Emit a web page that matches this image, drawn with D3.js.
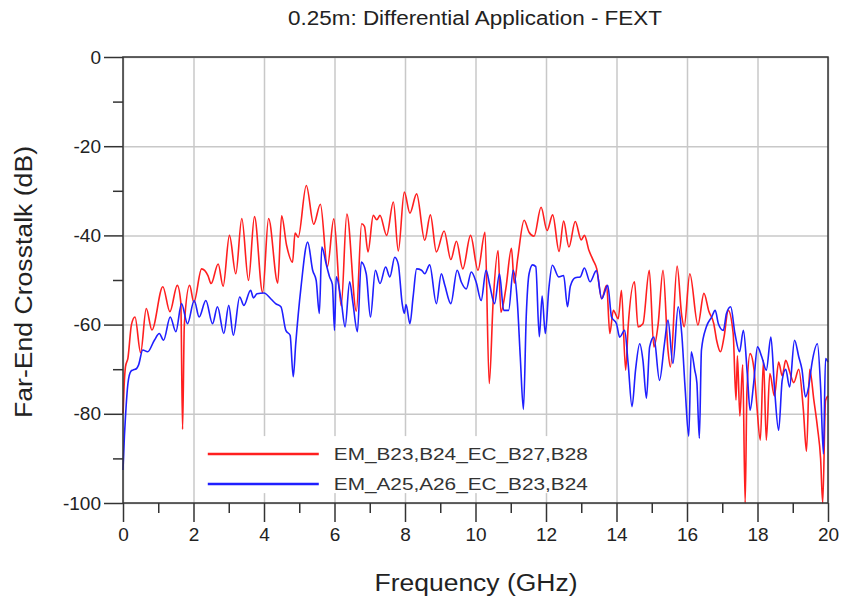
<!DOCTYPE html>
<html lang="en">
  <head>
    <meta charset="UTF-8">
    <title>FEXT</title>
    <style>
    * { box-sizing: border-box; margin: 0; padding: 0; }
    body { background: #fff; }
    svg { display: block; font-family: "Liberation Sans", Arial, sans-serif; }
    .grid line { stroke: #c8c8c8; stroke-width: 1.5px; }
    .grid path { display: none; }
    .axis path, .axis line { stroke: #333; stroke-width: 1.5px; }
    .axis text { fill: #222; font-size: 19px; }
    .series { fill: none; stroke-width: 1.6px; }
    </style>
  </head>
  <body>
    <svg width="842" height="599"></svg>
    <script src="https://d3js.org/d3.v7.min.js"></script>
    <script>
      const title = "0.25m: Differential Application - FEXT";
      const xLabel = "Frequency (GHz)";
      const yLabel = "Far-End Crosstalk (dB)";
      const xTicks = [0, 2, 4, 6, 8, 10, 12, 14, 16, 18, 20];
      const xMinor = [1, 3, 5, 7, 9, 11, 13, 15, 17, 19];
      const yTicks = [0, -20, -40, -60, -80, -100];
      const yMinor = [-10, -30, -50, -70, -90];
      const legendLabels = ["EM_B23,B24_EC_B27,B28", "EM_A25,A26_EC_B23,B24"];
      const colors = ["#ff1f1f", "#1f1fff"];

      // [GHz, dB]
      const redSeries = [
        [0, -80], [0.03, -74], [0.07, -69.5], [0.14, -67.5], [0.24, -60], [0.34, -58.3], [0.5, -66.3],
        [0.66, -56.4], [0.82, -61.2], [1.13, -51.5], [1.33, -57.1], [1.54, -51.2], [1.64, -55],
        [1.69, -83.5], [1.74, -60], [1.89, -51.2], [2.01, -55], [2.23, -47.5], [2.41, -49], [2.5, -50.8],
        [2.7, -46.4], [2.84, -51.4], [3.02, -40], [3.2, -48.6], [3.37, -36.2], [3.56, -50.1],
        [3.73, -35.8], [3.96, -52.8], [4.13, -36.2], [4.39, -50.7], [4.5, -35.6], [4.64, -42.2],
        [4.81, -46], [4.88, -39.5], [4.97, -40.4], [5.2, -28.8], [5.41, -37.5], [5.6, -33], [5.8, -47],
        [5.98, -36.3], [6.19, -55.8], [6.35, -35.2], [6.62, -57], [6.77, -37.4], [6.85, -38],
        [6.95, -43.7], [7.1, -35.5], [7.2, -36.5], [7.29, -35.5], [7.48, -40], [7.67, -32.5],
        [7.81, -43.5], [7.98, -30.3], [8.14, -35], [8.33, -30.7], [8.56, -41.1], [8.72, -35.4],
        [8.89, -43.7], [9.11, -39], [9.3, -45.4], [9.46, -41.3], [9.64, -47.5], [9.86, -40],
        [10.07, -47.8], [10.27, -39.3], [10.39, -73.2], [10.5, -55], [10.64, -43.4], [10.72, -57.2],
        [10.86, -52], [11.02, -42.9], [11.1, -50.7], [11.2, -45], [11.38, -36.6], [11.52, -39.3],
        [11.66, -40.2], [11.86, -33.7], [12.03, -38.9], [12.19, -35.4], [12.37, -43.6], [12.5, -36.8],
        [12.65, -42.6], [12.83, -36.9], [13.0, -41], [13.09, -40], [13.22, -43.4], [13.34, -45.6],
        [13.44, -47.5], [13.58, -54.2], [13.72, -51.2], [13.81, -62], [13.91, -56.8], [14.05, -58.7],
        [14.14, -52.3], [14.26, -70.2], [14.33, -60.5], [14.51, -50.4], [14.61, -60.5], [14.75, -59.8],
        [14.93, -47.8], [15.06, -65], [15.18, -60], [15.32, -47.8], [15.46, -65.7], [15.53, -69.5],
        [15.72, -46.9], [15.85, -58], [15.92, -60.5], [16.08, -48.6], [16.31, -60.1], [16.48, -53],
        [16.62, -57], [16.76, -59.8], [16.84, -63.5], [16.95, -66.1], [17.05, -62.8], [17.17, -56.8],
        [17.31, -62], [17.39, -76.9], [17.43, -67], [17.5, -80.5], [17.58, -69], [17.65, -100],
        [17.7, -75], [17.79, -66.5], [17.9, -70], [17.98, -78], [18.08, -85.9], [18.17, -68],
        [18.25, -85.9], [18.35, -71], [18.48, -76], [18.6, -68.4], [18.7, -71.5], [18.8, -68],
        [18.91, -70.5], [19.03, -73], [19.17, -70], [19.3, -79], [19.39, -88.4], [19.48, -70],
        [19.6, -77], [19.7, -83], [19.79, -90], [19.85, -100], [19.93, -77], [20, -76]
      ];

      const blueSeries = [
        [0, -92.6], [0.04, -85], [0.07, -80.7], [0.14, -73.2], [0.22, -70.5], [0.28, -70.2],
        [0.38, -69.9], [0.44, -69.1], [0.56, -65.7], [0.7, -66.1], [0.89, -63.5], [1.03, -62],
        [1.15, -63.5], [1.34, -58.3], [1.5, -61.6], [1.66, -55.3], [1.83, -59.8], [2.02, -54.6],
        [2.16, -58.3], [2.35, -54.6], [2.54, -59.8], [2.68, -56], [2.86, -62], [3.0, -55.7],
        [3.13, -62.4], [3.31, -53.8], [3.43, -55.7], [3.62, -52.3], [3.7, -54], [3.8, -53.1],
        [4.0, -52.9], [4.19, -54.2], [4.33, -55.3], [4.48, -56], [4.62, -61.3], [4.74, -62.4],
        [4.83, -71.7], [4.9, -64.3], [5.05, -51.6], [5.24, -41.5], [5.38, -47.8], [5.48, -50.1],
        [5.57, -57.5], [5.64, -42.6], [5.76, -46.3], [5.86, -49.3], [5.94, -51], [6.0, -61.3],
        [6.05, -49.3], [6.19, -54.6], [6.3, -60.5], [6.43, -50.4], [6.52, -55], [6.65, -61.6],
        [6.76, -46], [6.9, -48.6], [7.02, -58.3], [7.16, -47.8], [7.29, -50.8], [7.45, -47.1],
        [7.57, -49.3], [7.71, -44.9], [7.81, -46.5], [7.92, -55.3], [7.98, -57.5], [8.03, -55.5],
        [8.14, -59.8], [8.23, -53.8], [8.33, -47.5], [8.47, -47.8], [8.56, -48.6], [8.7, -46.6],
        [8.89, -55.3], [9.03, -48.6], [9.13, -51.2], [9.3, -55.3], [9.48, -47.8], [9.6, -50.5],
        [9.74, -52], [9.88, -48.2], [10.02, -50.5], [10.16, -54.6], [10.3, -47.8], [10.4, -51],
        [10.54, -55.3], [10.68, -48.6], [10.8, -56.8], [10.94, -56.8], [11.07, -47.8], [11.19, -55.3],
        [11.27, -67.2], [11.36, -79], [11.44, -58], [11.52, -48.6], [11.62, -46.6], [11.71, -47],
        [11.81, -62.7], [11.89, -53.6], [11.98, -62], [12.08, -52], [12.18, -46.7], [12.36, -49.3],
        [12.5, -49], [12.61, -56], [12.69, -51.4], [12.83, -49.5], [12.97, -49.3], [13.09, -47.3],
        [13.25, -50.4], [13.43, -47.9], [13.58, -54.2], [13.75, -51.2], [13.86, -58.3], [14.0, -59.8],
        [14.09, -62.8], [14.23, -61.3], [14.33, -68.7], [14.44, -78.4], [14.54, -70.2], [14.66, -64.3],
        [14.75, -68], [14.85, -76.5], [14.94, -65], [15.06, -62.8], [15.22, -72.5], [15.36, -64.3],
        [15.46, -59], [15.6, -68.7], [15.75, -56], [15.85, -62], [15.95, -74.7], [16.05, -85],
        [16.12, -66.1], [16.22, -70.2], [16.28, -73], [16.35, -85.5], [16.41, -65.7], [16.55, -60.5],
        [16.7, -58.3], [16.8, -56.8], [16.89, -59.8], [17.03, -61.3], [17.12, -57.5], [17.24, -56],
        [17.36, -62], [17.49, -66.1], [17.6, -61.3], [17.71, -71], [17.79, -79.2], [17.89, -73.2],
        [18.0, -65], [18.12, -67.2], [18.25, -70.2], [18.38, -62.8], [18.48, -74], [18.6, -83.7],
        [18.7, -72.5], [18.8, -70], [18.91, -74], [19.05, -63.5], [19.17, -67.2], [19.26, -70],
        [19.36, -76.2], [19.45, -74], [19.55, -68.4], [19.7, -64.3], [19.79, -74], [19.87, -89],
        [19.93, -67.6], [20, -68.4]
      ];

      const margin = { top: 57, left: 123 };
      const width = 705, height = 446;

      const svg = d3.select("svg");
      const g = svg.append("g").attr("transform", `translate(${margin.left},${margin.top})`);

      const x = d3.scaleLinear().domain([0, 20]).range([0, width]);
      const y = d3.scaleLinear().domain([-100, 0]).range([height, 0]);

      // grid
      g.append("g").attr("class", "grid")
        .attr("transform", `translate(0,${height})`)
        .call(d3.axisBottom(x).tickValues(xTicks).tickSize(-height).tickFormat(""));
      g.append("g").attr("class", "grid")
        .call(d3.axisLeft(y).tickValues(yTicks).tickSize(-width).tickFormat(""));

      // curves
      const line = d3.line()
        .x(d => x(d[0]))
        .y(d => y(d[1]))
        .curve(d3.curveMonotoneX);

      g.append("path").datum(redSeries).attr("class", "series")
        .attr("stroke", colors[0]).attr("d", line);
      g.append("path").datum(blueSeries).attr("class", "series")
        .attr("stroke", colors[1]).attr("d", line);

      // legend
      const legend = g.append("g").attr("transform", `translate(${x(2.15)},${y(-85)})`);
      legend.append("rect")
        .attr("width", x(13.9) - x(2.15)).attr("height", 57)
        .attr("fill", "#fff");
      legendLabels.forEach((label, i) => {
        legend.append("line")
          .attr("x1", 9).attr("x2", 120)
          .attr("y1", 18 + i * 30).attr("y2", 18 + i * 30)
          .attr("stroke", colors[i]).attr("stroke-width", 2.5);
        legend.append("text")
          .attr("x", 135).attr("y", 24 + i * 30)
          .attr("font-size", 17).attr("fill", "#333")
          .attr("textLength", 254).attr("lengthAdjust", "spacingAndGlyphs")
          .text(label);
      });

      // frame
      g.append("rect")
        .attr("width", width).attr("height", height)
        .attr("fill", "none").attr("stroke", "#333").attr("stroke-width", 1.5);

      // axes
      g.append("g").attr("class", "axis")
        .attr("transform", `translate(0,${height})`)
        .call(d3.axisBottom(x).tickValues(xTicks).tickSize(19).tickPadding(6).tickFormat(d3.format("d")))
        .call(a => a.select(".domain").remove());
      g.append("g").attr("class", "axis")
        .attr("transform", `translate(0,${height})`)
        .call(d3.axisBottom(x).tickValues(xMinor).tickSize(10).tickFormat(""))
        .call(a => a.select(".domain").remove());
      g.append("g").attr("class", "axis")
        .call(d3.axisLeft(y).tickValues(yTicks).tickSize(19).tickPadding(3).tickFormat(d3.format("d")))
        .call(a => a.select(".domain").remove())
        .call(a => a.selectAll("text").text(d => d === 0 ? "0" : d3.format("d")(d).replace("−", "-")));
      g.append("g").attr("class", "axis")
        .call(d3.axisLeft(y).tickValues(yMinor).tickSize(10).tickFormat(""))
        .call(a => a.select(".domain").remove());

      // titles
      svg.append("text")
        .attr("x", 475).attr("y", 25)
        .attr("text-anchor", "middle").attr("font-size", 20).attr("fill", "#222")
        .attr("textLength", 374).attr("lengthAdjust", "spacingAndGlyphs")
        .text(title);

      svg.append("text")
        .attr("x", 476).attr("y", 591)
        .attr("text-anchor", "middle").attr("font-size", 23).attr("fill", "#222")
        .attr("textLength", 203).attr("lengthAdjust", "spacingAndGlyphs")
        .text(xLabel);

      svg.append("text")
        .attr("transform", "translate(32,282) rotate(-90)")
        .attr("text-anchor", "middle").attr("font-size", 23).attr("fill", "#222")
        .attr("textLength", 272).attr("lengthAdjust", "spacingAndGlyphs")
        .text(yLabel);
    </script>
  </body>
</html>
